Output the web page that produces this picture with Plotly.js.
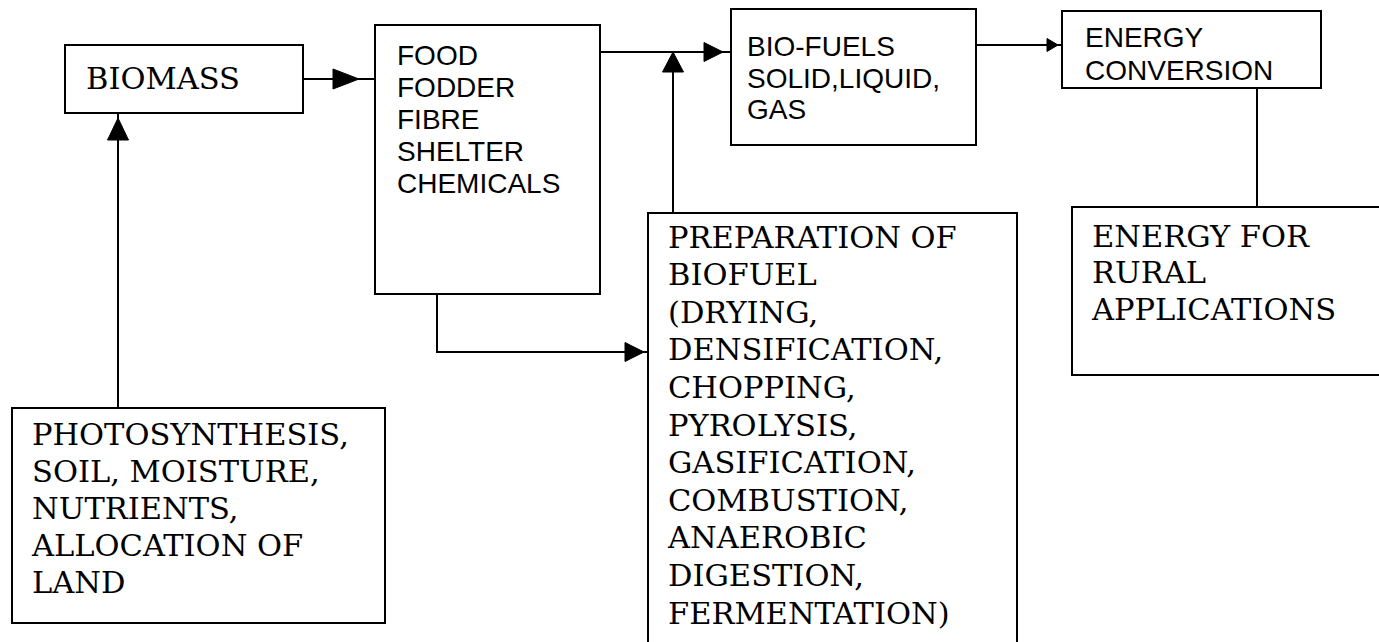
<!DOCTYPE html>
<html>
<head>
<meta charset="utf-8">
<script src="https://cdn.plot.ly/plotly-3.0.1.min.js"></script>
<style>html,body{margin:0;padding:0;background:#fff;}#chart{width:1379px;height:642px;}</style>
</head>
<body>
<div id="chart"></div>
<script>
// ---- Content (labels of each box) ----
const biomassLines = ["BIOMASS"];
const productLines = ["FOOD", "FODDER", "FIBRE", "SHELTER", "CHEMICALS"];
const biofuelLines = ["BIO-FUELS", "SOLID,LIQUID,", "GAS"];
const conversionLines = ["ENERGY", "CONVERSION"];
const ruralLines = ["ENERGY FOR", "RURAL", "APPLICATIONS"];
const preparationLines = ["PREPARATION OF", "BIOFUEL", "(DRYING,", "DENSIFICATION,", "CHOPPING,",
  "PYROLYSIS,", "GASIFICATION,", "COMBUSTION,", "ANAEROBIC", "DIGESTION,", "FERMENTATION)"];
const inputLines = ["PHOTOSYNTHESIS,", "SOIL, MOISTURE,", "NUTRIENTS,", "ALLOCATION OF", "LAND"];

// ---- Diagram layout (positions in pixel-like coordinates) ----
const nodes = {
  biomass:     {box: [65, 45, 303, 113],   text: [86, 81, 0],    lines: biomassLines,    serif: true},
  products:    {box: [375, 25, 600, 294],  text: [397, 58, 32],  lines: productLines,    serif: false},
  biofuels:    {box: [731, 9, 976, 145],   text: [747, 49, 31.5],lines: biofuelLines,    serif: false},
  conversion:  {box: [1062, 11, 1321, 88], text: [1085, 40, 33], lines: conversionLines, serif: false},
  rural:       {box: [1072, 207, 1390, 375], text: [1092, 239, 36.5], lines: ruralLines, serif: true},
  preparation: {box: [648, 213, 1017, 660],  text: [668, 240, 37.6], lines: preparationLines, serif: true},
  inputs:      {box: [12, 408, 385, 623],  text: [32, 437, 37],  lines: inputLines,      serif: true}
};

// connectors: polyline points, head = [tip, length, halfWidth] or null
const connectors = [
  {pts: [[303, 79], [375, 79]], head: [359, 26, 10]},
  {pts: [[118, 408], [118, 113]], head: [118, 22, 10.5]},
  {pts: [[600, 52], [731, 52]], head: [723, 19, 9.5]},
  {pts: [[673, 213], [673, 52]], head: [52, 20, 10.5]},
  {pts: [[437, 294], [437, 352], [647, 352]], head: [644, 19, 9.5]},
  {pts: [[976, 45], [1062, 45]], head: [1058, 11, 6.5]},
  {pts: [[1257, 88], [1257, 207]], head: null}
];

const shapes = [];
const lineStyle = {color: "#000", width: 2};

Object.values(nodes).forEach(n => {
  const [x0, y0, x1, y1] = n.box;
  shapes.push({type: "rect", xref: "x", yref: "y", x0, y0, x1, y1, line: lineStyle, fillcolor: "rgba(0,0,0,0)"});
});

connectors.forEach(c => {
  let d = "M " + c.pts.map(p => p[0] + "," + p[1]).join(" L ");
  shapes.push({type: "path", xref: "x", yref: "y", path: d, line: lineStyle});
  if (c.head) {
    const a = c.pts[c.pts.length - 2], b = c.pts[c.pts.length - 1];
    const [tip, len, hw] = c.head;
    let tri;
    if (a[1] === b[1]) { // horizontal
      const dir = Math.sign(b[0] - a[0]);
      const y = b[1];
      tri = `M ${tip},${y} L ${tip - dir * len},${y - hw} L ${tip - dir * len},${y + hw} Z`;
    } else { // vertical
      const dir = Math.sign(b[1] - a[1]);
      const x = b[0];
      tri = `M ${x},${tip} L ${x - hw},${tip - dir * len} L ${x + hw},${tip - dir * len} Z`;
    }
    shapes.push({type: "path", xref: "x", yref: "y", path: tri, line: {color: "#000", width: 1}, fillcolor: "#000"});
  }
});

function textTrace(serif) {
  const xs = [], ys = [], ts = [];
  Object.values(nodes).filter(n => n.serif === serif).forEach(n => {
    const [tx, ty, dy] = n.text;
    n.lines.forEach((t, i) => { xs.push(tx); ys.push(ty + i * dy); ts.push(t); });
  });
  return {
    type: "scatter", mode: "text", x: xs, y: ys, text: ts,
    textposition: "middle right", hoverinfo: "skip", showlegend: false,
    textfont: serif ? {family: "DejaVu Serif, Liberation Serif, serif", size: 30.5, color: "#000"}
                    : {family: "Liberation Sans, Arial, sans-serif", size: 28, color: "#000"}
  };
}

const data = [textTrace(true), textTrace(false)];

const layout = {
  width: 1379, height: 642,
  margin: {l: 0, r: 0, t: 0, b: 0},
  paper_bgcolor: "#fff", plot_bgcolor: "#fff",
  xaxis: {range: [0, 1379], visible: false, fixedrange: true},
  yaxis: {range: [642, 0], visible: false, fixedrange: true},
  shapes: shapes,
  showlegend: false
};

Plotly.newPlot("chart", data, layout, {staticPlot: true, displayModeBar: false});
</script>
</body>
</html>
